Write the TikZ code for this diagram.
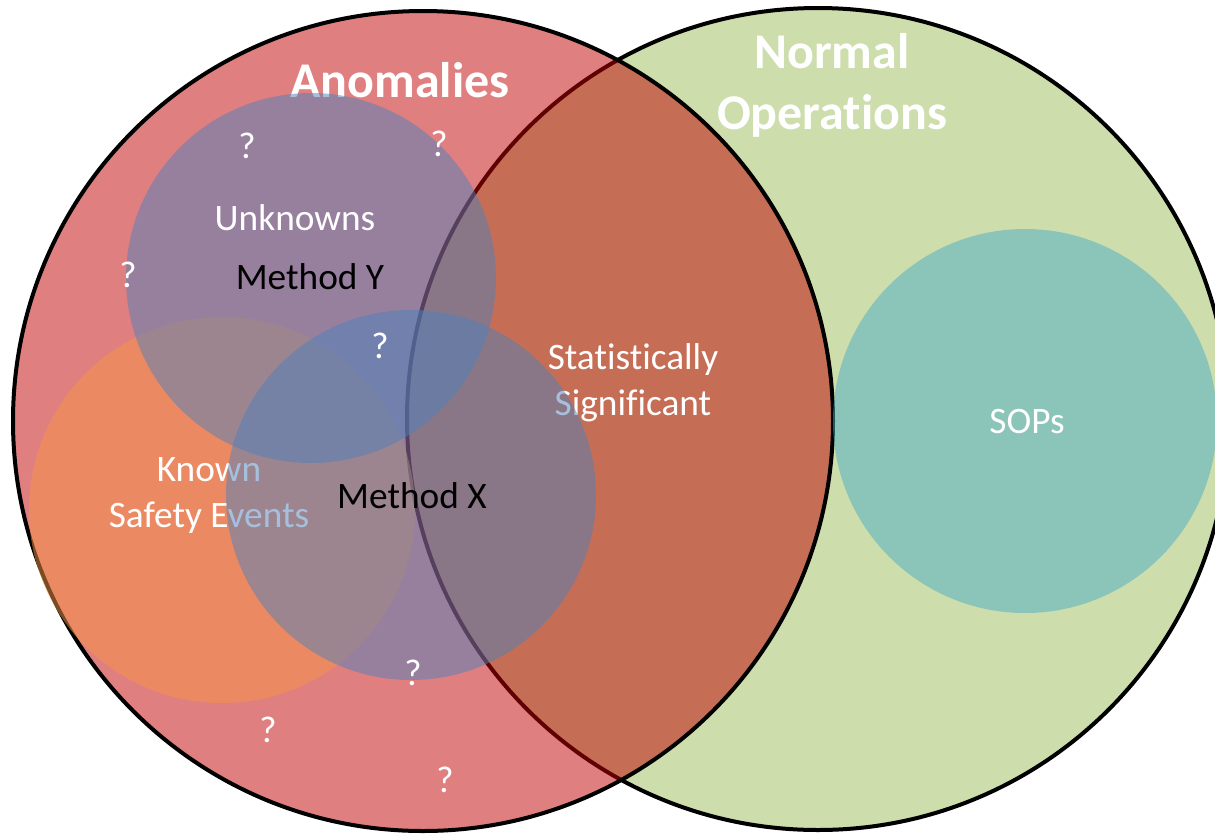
\documentclass[tikz,border=0pt]{standalone}
\usepackage{fontspec}
\setmainfont{Carlito}[Ligatures=NoCommon]
\definecolor{normgreen}{HTML}{9BBB59}
\definecolor{anomred}{HTML}{C00000}
\definecolor{safeorange}{HTML}{F79646}
\definecolor{methblue}{HTML}{4F81BD}
\definecolor{sopteal}{HTML}{4BACC6}
\begin{document}
\begin{tikzpicture}[x=0.75pt,y=-0.75pt,
    bigset/.style={fill=#1,fill opacity=0.5,draw=black,line width=3pt},
    subset/.style={fill=#1,fill opacity=0.5},
    txt/.style={text=white,font=\fontsize{28}{34}\selectfont,align=center,anchor=base},
    headtxt/.style={txt,font=\fontsize{37.5}{45.75}\selectfont\bfseries}]
    \useasboundingbox (0,0) rectangle (1215,833);
    \clip (0,0) rectangle (1215,833);
    %% normal operations and anomalies
    \filldraw[bigset=normgreen] (818,419) circle (411);
    \filldraw[bigset=anomred] (423,421) circle (410);
    \fill[subset=safeorange] (222,510) circle (193);
    %% labels lying under the method circles
    \node[headtxt] (anom) at (400,97) {Anomalies};
    \node[headtxt] (normal) at (832,129) {Normal\\Operations};
    \node[txt] (known) at (209,527) {Known\\Safety Events};
    \node[txt] (stat) at (633,415) {Statistically\\Significant};
    %% methods
    \fill[subset=methblue] (311,278) circle (185);
    \fill[subset=methblue] (411,495) circle (185);
    \fill[subset=sopteal] (1025,421) circle (192);
    %% labels on top
    \node[txt] (unk) at (295,230) {Unknowns};
    \node[txt,text=black] (methy) at (310,289) {Method Y};
    \node[txt,text=black] (methx) at (412,508) {Method X};
    \node[txt] (sops) at (1027,433) {SOPs};
    \foreach \p [count=\i] in {(247,158),(439,156),(128,287),(380,358),(413,685),(268,742),(445,792)}
        \node[txt] (q\i) at \p {?};
\end{tikzpicture}
\end{document}
